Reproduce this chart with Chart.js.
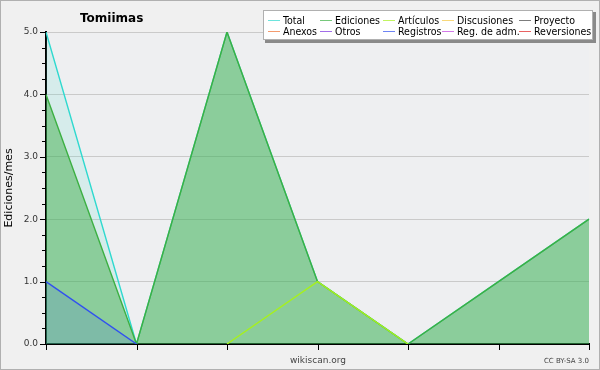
<!DOCTYPE html>
<html>
<head>
<meta charset="utf-8">
<script src="https://cdn.jsdelivr.net/npm/chart.js@4/dist/chart.umd.min.js"></script>
<style>
  body { margin: 0; background: #f0f0f0; }
  #wrap { width: 600px; height: 370px; position: relative; }
  canvas { display: block; }
</style>
</head>
<body>
<div id="wrap"><canvas id="grafico" width="600" height="370"></canvas></div>
<script>
// meses (sin etiquetas visibles en el original)
const meses = ['m1', 'm2', 'm3', 'm4', 'm5', 'm6', 'm7']

const total       = [5, 0, 5, 1, 0, 1, 2]
const ediciones   = [4, 0, 5, 1, 0, 1, 2]
const articulos   = [null, null, 0, 1, 0, null, null]
const discusiones = [null, null, null, null, null, null, null]
const proyecto    = [null, null, null, null, null, null, null]
const anexos      = [null, null, null, null, null, null, null]
const otros       = [null, null, null, null, null, null, null]
const registros   = [1, 0, null, null, null, null, null]
const regAdm      = [null, null, null, null, null, null, null]
const reversiones = [null, null, null, null, null, null, null]

const yTicks = [0, 1, 2, 3, 4, 5]

const series = [
    { label: 'Total',        data: total,       color: '#2fd9cf', fill: 'rgba(80,220,200,0.15)' },
    { label: 'Ediciones',    data: ediciones,   color: '#3cb043', fill: 'rgba(56,170,66,0.47)' },
    { label: 'Artículos',    data: articulos,   color: '#a6f01e', fill: false },
    { label: 'Discusiones',  data: discusiones, color: '#f5c842', fill: false },
    { label: 'Proyecto',     data: proyecto,    color: '#444444', fill: false },
    { label: 'Anexos',       data: anexos,      color: '#f07030', fill: false },
    { label: 'Otros',        data: otros,       color: '#7a30e0', fill: false },
    { label: 'Registros',    data: registros,   color: '#3050f0', fill: 'rgba(48,80,240,0.14)' },
    { label: 'Reg. de adm.', data: regAdm,      color: '#c040e0', fill: false },
    { label: 'Reversiones',  data: reversiones, color: '#e02020', fill: false }
]

// orden del dibujo: Total abajo, Registros arriba
const orden = [10, 9, 8, 7, 6, 5, 4, 1, 3, 2]

let datasets = []
for (let i = 0; i < series.length; i++) {
    const s = series[i]
    datasets.push({
        label: s.label,
        data: s.data,
        borderColor: s.color,
        backgroundColor: s.fill || 'transparent',
        fill: s.fill ? 'origin' : false,
        borderWidth: 1.4,
        pointRadius: 0,
        tension: 0,
        order: orden[i]
    })
}

const legendCols = [268, 320, 383, 442, 519]

const extras = {
    id: 'extras',
    beforeDraw(chart) {
        const ctx = chart.ctx
        const a = chart.chartArea
        ctx.save()
        ctx.fillStyle = '#f0f0f0'
        ctx.fillRect(0, 0, 600, 370)
        ctx.fillStyle = '#eeeff1'
        ctx.fillRect(a.left, a.top, a.right - a.left, a.bottom - a.top)
        ctx.restore()
    },
    afterDraw(chart) {
        const ctx = chart.ctx
        const a = chart.chartArea
        const y = chart.scales.y
        const x = chart.scales.x
        ctx.save()
        // marcas del eje y
        ctx.strokeStyle = '#000'
        ctx.lineWidth = 1
        for (let v = 0; v <= 5.001; v += 0.25) {
            const py = Math.round(y.getPixelForValue(v)) + 0.5
            const len = Number.isInteger(v) ? 6 : 4
            ctx.beginPath()
            ctx.moveTo(a.left - len, py)
            ctx.lineTo(a.left, py)
            ctx.stroke()
        }
        // marcas del eje x
        for (let i = 0; i < meses.length; i++) {
            const px = Math.round(x.getPixelForValue(i)) + 0.5
            ctx.beginPath()
            ctx.moveTo(px, a.bottom)
            ctx.lineTo(px, a.bottom + 6)
            ctx.stroke()
        }
        // titulo
        ctx.fillStyle = '#000'
        ctx.font = 'bold 12px "DejaVu Sans"'
        ctx.textBaseline = 'alphabetic'
        ctx.fillText('Tomiimas', 80, 22)
        // pie
        ctx.fillStyle = '#444'
        ctx.font = '9px "DejaVu Sans"'
        ctx.textAlign = 'center'
        ctx.fillText('wikiscan.org', 318, 363)
        ctx.font = '7px "DejaVu Sans"'
        ctx.textAlign = 'right'
        ctx.fillText('CC BY-SA 3.0', 589, 363)
        // leyenda
        ctx.fillStyle = '#8a8a8a'
        ctx.fillRect(265, 12, 331, 31)
        ctx.fillStyle = '#fff'
        ctx.fillRect(263, 10, 330, 30)
        ctx.strokeStyle = '#b0b0b0'
        ctx.strokeRect(263.5, 10.5, 329, 29)
        ctx.font = '10.5px "DejaVu Sans Condensed", "DejaVu Sans"'
        ctx.textAlign = 'left'
        for (let i = 0; i < series.length; i++) {
            const col = i % 5
            const row = Math.floor(i / 5)
            const lx = legendCols[col]
            const ly = 20 + row * 11
            ctx.globalAlpha = 0.7
            ctx.strokeStyle = series[i].color
            ctx.beginPath()
            ctx.moveTo(lx, ly + 0.5)
            ctx.lineTo(lx + 12, ly + 0.5)
            ctx.stroke()
            ctx.globalAlpha = 1
            ctx.fillStyle = '#000'
            ctx.fillText(series[i].label, lx + 15, ly + 4)
        }
        // borde exterior
        ctx.strokeStyle = '#b0b0b0'
        ctx.strokeRect(0.5, 0.5, 599, 369)
        ctx.restore()
    }
}

const config = {
    type: 'line',
    data: { labels: meses, datasets: datasets },
    options: {
        responsive: false,
        devicePixelRatio: 1,
        animation: false,
        layout: { padding: { top: 32, right: 11, left: 0, bottom: 0 } },
        plugins: {
            legend: { display: false },
            title: { display: false },
            tooltip: { enabled: false }
        },
        scales: {
            x: {
                offset: false,
                grid: { display: false, drawTicks: false },
                border: { color: '#000', width: 2 },
                ticks: { display: false },
                afterFit(scale) { scale.height = 26 }
            },
            y: {
                min: 0,
                max: 5,
                afterBuildTicks(scale) {
                    scale.ticks = yTicks.map(v => ({ value: v }))
                },
                grid: {
                    color: ctx => ctx.tick && ctx.tick.value > 0 ? '#cacaca' : 'transparent',
                    drawTicks: false
                },
                border: { color: '#000', width: 2 },
                ticks: {
                    padding: 8,
                    color: '#333',
                    font: { family: 'DejaVu Sans', size: 9 },
                    callback: v => Number(v).toFixed(1)
                },
                title: {
                    display: true,
                    text: 'Ediciones/mes',
                    color: '#000',
                    font: { family: 'DejaVu Sans', size: 11 },
                    padding: { top: 3, bottom: 0 }
                },
                afterFit(scale) { scale.width = 46 }
            }
        }
    },
    plugins: [extras]
}

new Chart(document.getElementById('grafico'), config)
</script>
</body>
</html>
